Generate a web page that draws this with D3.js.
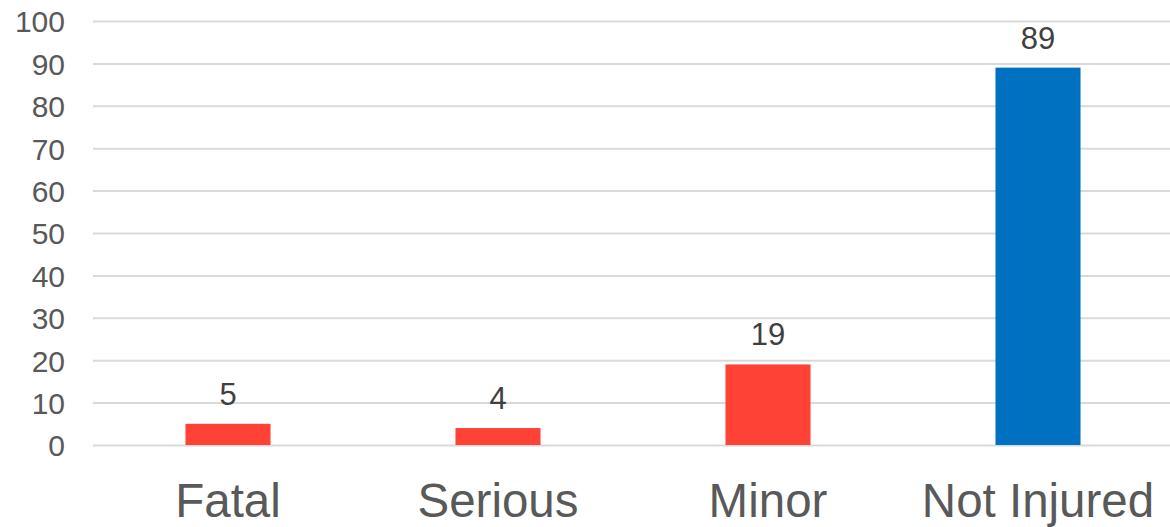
<!DOCTYPE html>
<html>
<head>
<meta charset="utf-8">
<script src="https://cdn.jsdelivr.net/npm/d3@7"></script>
<style>
	body { margin: 0; background: #fff; }
	svg { display: block; font-family: "Liberation Sans", Arial, sans-serif; }
</style>
</head>
<body>
<svg></svg>
<script>
const categories = ['Fatal', 'Serious', 'Minor', 'Not Injured'];
const values = [5, 4, 19, 89];
const barColors = ['#ff4136', '#ff4136', '#ff4136', '#0070c0'];
const yTicks = [0, 10, 20, 30, 40, 50, 60, 70, 80, 90, 100];

const svg = d3.select('svg')
	.attr('width', 1170)
	.attr('height', 527);

const margin = { top: 21, right: -3, bottom: 82, left: 93 },
	width = 1170,
	height = 527,
	innerWidth = width - margin.left - margin.right,
	innerHeight = height - margin.top - margin.bottom;

const data = categories.map((c, i) => ({ category: c, value: values[i], color: barColors[i] }));

const xScale = d3.scaleBand()
	.domain(categories)
	.range([0, innerWidth])
	.paddingInner(0.685)
	.paddingOuter(0.3425);

const yScale = d3.scaleLinear()
	.domain([0, 100])
	.range([innerHeight, 0]);

const g = svg.append('g')
	.attr('transform', `translate(${margin.left}, ${margin.top})`);

// gridlines + y labels
const yAxisG = g.append('g')
	.call(d3.axisLeft(yScale)
		.tickValues(yTicks)
		.tickSize(-innerWidth)
		.tickPadding(28));
yAxisG.select('.domain').remove();
yAxisG.selectAll('.tick line')
	.attr('stroke', '#d9d9d9')
	.attr('stroke-width', 2);
yAxisG.selectAll('.tick text')
	.attr('fill', '#595959')
	.attr('font-size', 30)
	.attr('dy', '0.36em');

// category labels
const xAxisG = g.append('g')
	.attr('transform', `translate(0, ${innerHeight})`)
	.call(d3.axisBottom(xScale).tickSize(0).tickPadding(0));
xAxisG.select('.domain').remove();
xAxisG.selectAll('.tick text')
	.attr('fill', '#595959')
	.attr('font-size', 47.5)
	.attr('dy', null)
	.attr('y', 72);

// bars
g.selectAll('rect.bar')
	.data(data)
	.enter().append('rect')
	.attr('class', 'bar')
	.attr('x', d => xScale(d.category))
	.attr('y', d => yScale(d.value))
	.attr('width', xScale.bandwidth())
	.attr('height', d => innerHeight - yScale(d.value))
	.attr('fill', d => d.color);

// value labels
g.selectAll('text.value')
	.data(data)
	.enter().append('text')
	.attr('class', 'value')
	.attr('x', d => xScale(d.category) + xScale.bandwidth() / 2)
	.attr('y', d => yScale(d.value) - 19)
	.attr('text-anchor', 'middle')
	.attr('fill', '#404040')
	.attr('font-size', 31)
	.text(d => d.value);
</script>
</body>
</html>
